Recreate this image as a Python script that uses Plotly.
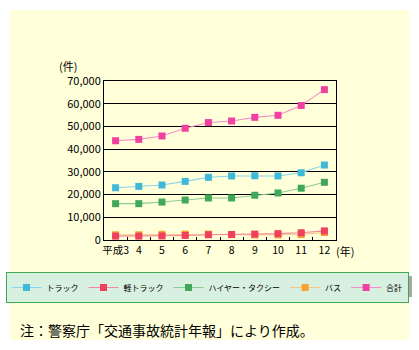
import plotly.graph_objects as go

years = ["平成3", "4", "5", "6", "7", "8", "9", "10", "11", "12"]
truck = [23000, 23600, 24200, 25800, 27600, 28200, 28300, 28200, 29600, 33000]
kei_truck = [1700, 1700, 1800, 2000, 2300, 2400, 2600, 2800, 3200, 4000]
taxi = [16000, 16000, 16700, 17600, 18500, 18500, 19700, 20700, 22800, 25400]
bus = [2300, 2300, 2500, 2600, 2600, 2400, 2200, 2200, 2400, 3300]
total = [43700, 44300, 45800, 49200, 51700, 52400, 54000, 54900, 59200, 66200]

series = [
    # name, values, marker colour, line colour, legend rank
    ("バス", bus, "#F8A030", "#F8C880", 4),
    ("トラック", truck, "#40B8D8", "#88D4EC", 1),
    ("軽トラック", kei_truck, "#F04060", "#F08898", 2),
    ("ハイヤー・タクシー", taxi, "#40A858", "#88CC98", 3),
    ("合計", total, "#F040A0", "#F490C8", 5),
]

FONT = "Noto Sans CJK JP"
BG = "#FFFFD9"
W, H = 419, 350
T, B = 81, 110          # plot top / bottom margins
PH = H - T - B          # plot height in px


def px(xp):
    return xp / W


def py(yp):
    return (H - B - yp) / PH


fig = go.Figure()
for name, vals, mc, lc, rank in series:
    fig.add_trace(go.Scatter(
        x=years, y=vals, name=name, mode="lines+markers",
        line=dict(color=lc, width=1.1),
        marker=dict(symbol="square", size=7, color=mc),
        legendrank=rank,
    ))

fig.update_layout(
    width=W, height=H,
    margin=dict(l=0, r=0, t=T, b=B, autoexpand=False),
    paper_bgcolor="white", plot_bgcolor=BG,
    font=dict(family=FONT, size=11, color="black"),
    showlegend=True,
    legend=dict(
        orientation="h", x=px(207), xanchor="center", y=py(272), yanchor="top",
        bgcolor="#D8F0E0", bordercolor="#40A858", borderwidth=1,
        font=dict(family=FONT, size=8, color="black"),
        itemwidth=30, traceorder="normal",
    ),
    xaxis=dict(
        domain=[px(104), px(336)],
        type="category", range=[-0.5, 9.5], showgrid=False,
        showline=True, linecolor="black", linewidth=1, mirror=True,
        ticks="inside", tickson="boundaries", ticklen=3, tickcolor="black",
        tickangle=0, tickfont=dict(family=FONT, size=10.5), fixedrange=True,
    ),
    yaxis=dict(
        range=[0, 70000], dtick=10000, tickformat=",d",
        showgrid=True, gridcolor="black", gridwidth=1,
        showline=True, linecolor="black", linewidth=1, mirror=True,
        zeroline=False, ticks="", tickfont=dict(family=FONT, size=11),
        fixedrange=True,
    ),
    shapes=[
        dict(type="rect", xref="paper", yref="paper", layer="below",
             x0=px(10), x1=px(409), y0=py(340), y1=py(10),
             fillcolor=BG, line=dict(width=0)),
        # legend drop shadow
        dict(type="rect", xref="paper", yref="paper", layer="below",
             x0=px(9), x1=px(412), y0=py(297), y1=py(276),
             fillcolor="#A8A8A8", line=dict(width=0)),
    ],
    annotations=[
        dict(text="(件)", xref="paper", yref="paper", x=px(68), y=py(66),
             showarrow=False, xanchor="center", yanchor="middle",
             font=dict(family=FONT, size=11)),
        dict(text="(年)", xref="paper", yref="paper", x=px(345), y=py(251),
             showarrow=False, xanchor="center", yanchor="middle",
             font=dict(family=FONT, size=11)),
        dict(text="注：警察庁「交通事故統計年報」により作成。", xref="paper",
             yref="paper", x=px(18), y=py(330), showarrow=False,
             xanchor="left", yanchor="middle", font=dict(family=FONT, size=14)),
    ],
)

fig.write_html("out.html")
